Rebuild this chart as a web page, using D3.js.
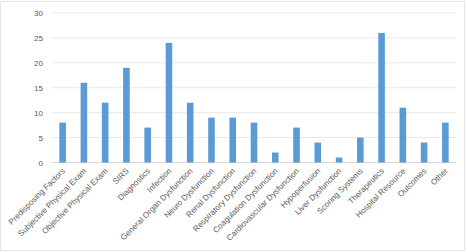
<!DOCTYPE html>
<html>
<head>
<meta charset="utf-8">
<script src="https://cdn.jsdelivr.net/npm/d3@7"></script>
<style>
	body { margin: 0; background: #fff; }
	svg { display: block; }
	text { font-family: "Liberation Sans", Arial, sans-serif; fill: #595959; }
</style>
</head>
<body>
<script>
// categories and counts
let categories = [
	"Predisposing Factors", "Subjective Physical Exam", "Objective Physical Exam", "SIRS",
	"Diagnostics", "Infection", "General Organ Dysfunction", "Neuro Dysfunction",
	"Renal Dysfunction", "Respiratory Dysfunction", "Coagulation Dysfunction",
	"Cardiovascular Dysfunction", "Hypoperfusion", "Liver Dysfunction", "Scoring Systems",
	"Therapeutics", "Hospital Resource", "Outcomes", "Other"
];
let counts = [8, 16, 12, 19, 7, 24, 12, 9, 9, 8, 2, 7, 4, 1, 5, 26, 11, 4, 8];
let yTicks = [0, 5, 10, 15, 20, 25, 30];

let width = 467, height = 252;
let plotLeft = 52, plotRight = 456, plotTop = 13, plotBottom = 162.5;

let svg = d3.select("body").append("svg")
	.attr("width", width)
	.attr("height", height);

// outer chart border
svg.append("rect")
	.attr("x", 0.5).attr("y", 1.5)
	.attr("width", 464).attr("height", 249)
	.attr("fill", "none")
	.attr("stroke", "#e4e4e4");

let x = d3.scaleBand()
	.domain(categories)
	.range([plotLeft, plotRight])
	.paddingInner(0.69)
	.paddingOuter(0.345);

let y = d3.scaleLinear()
	.domain([0, 30])
	.range([plotBottom, plotTop]);

//gridlines
svg.selectAll("line.grid")
	.data(yTicks)
	.enter().append("line")
	.attr("class", "grid")
	.attr("x1", plotLeft)
	.attr("x2", plotRight)
	.attr("y1", d => y(d))
	.attr("y2", d => y(d))
	.attr("stroke", d => d == 0 ? "#d9d9d9" : "#e8e8e8")
	.attr("stroke-width", 1);

//y labels
svg.selectAll("text.ylab")
	.data(yTicks)
	.enter().append("text")
	.attr("class", "ylab")
	.attr("x", 43)
	.attr("y", d => y(d) + 3)
	.attr("text-anchor", "end")
	.attr("font-size", 8)
	.text(d => d);

//bars
svg.selectAll("rect.bar")
	.data(counts)
	.enter().append("rect")
	.attr("class", "bar")
	.attr("x", (d, i) => x(categories[i]))
	.attr("y", d => y(d))
	.attr("width", x.bandwidth())
	.attr("height", d => plotBottom - y(d))
	.attr("fill", "#5b9bd5");

//category labels
svg.selectAll("text.xlab")
	.data(categories)
	.enter().append("text")
	.attr("class", "xlab")
	.attr("transform", d => "translate(" + (x(d) + x.bandwidth() / 2 + 3) + "," + (plotBottom + 9) + ") rotate(-45)")
	.attr("text-anchor", "end")
	.attr("font-size", 8.1)
	.text(d => d);
</script>
</body>
</html>
